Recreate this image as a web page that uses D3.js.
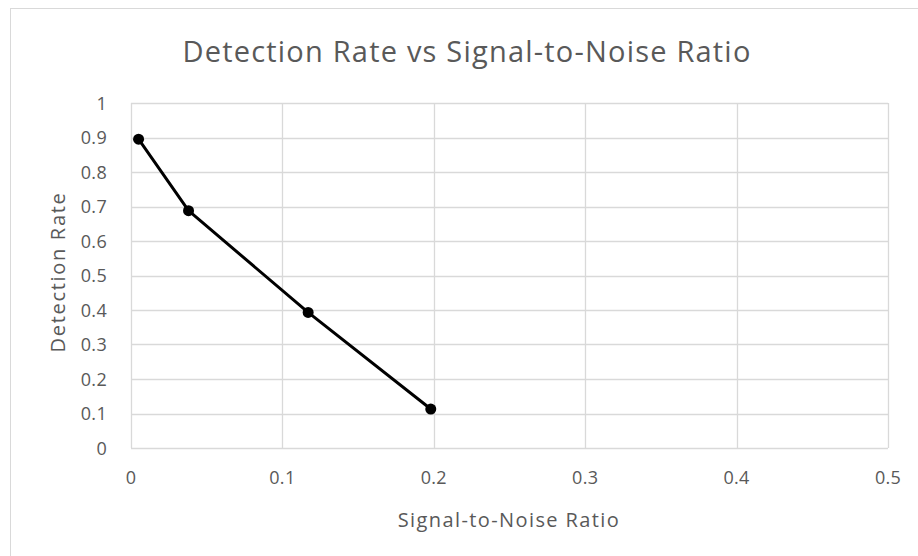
<!DOCTYPE html>
<html><head><meta charset="utf-8">
<script src="https://cdn.jsdelivr.net/npm/d3@7"></script>
<style>body{margin:0;background:#fff;}svg{display:block;font-family:"Open Sans",sans-serif;}</style>
</head><body>
<svg id="c" width="918" height="556"></svg>
<script>
const snr = [0.005, 0.038, 0.117, 0.198];
const detectionRate = [0.895, 0.688, 0.393, 0.113];
const xTicks = [0, 0.1, 0.2, 0.3, 0.4, 0.5];
const yTicks = [0, 0.1, 0.2, 0.3, 0.4, 0.5, 0.6, 0.7, 0.8, 0.9, 1];
const title = "Detection Rate vs Signal-to-Noise Ratio";
const xTitle = "Signal-to-Noise Ratio";
const yTitle = "Detection Rate";

const svg = d3.select("#c");
svg.append("rect").attr("x",10.5).attr("y",8.5).attr("width",930).attr("height",560)
  .attr("fill","#fff").attr("stroke","#d9d9d9").attr("stroke-width",1);

const m = {l:131, r:888, t:103, b:448};
const x = d3.scaleLinear().domain([0,0.5]).range([m.l,m.r]);
const y = d3.scaleLinear().domain([0,1]).range([m.b,m.t]);
const grey = "#595959";

const g = svg.append("g");
g.selectAll(".hg").data(yTicks).join("line")
  .attr("x1",m.l).attr("x2",m.r).attr("y1",d=>Math.round(y(d))+0.5).attr("y2",d=>Math.round(y(d))+0.5)
  .attr("stroke","#d9d9d9").attr("stroke-width",1.3);
g.selectAll(".vg").data(xTicks).join("line")
  .attr("y1",m.t).attr("y2",m.b).attr("x1",d=>Math.round(x(d))+0.5).attr("x2",d=>Math.round(x(d))+0.5)
  .attr("stroke","#d9d9d9").attr("stroke-width",1.3);

g.selectAll(".yl").data(yTicks).join("text")
  .attr("x",107).attr("y",d=>y(d)+6.5).attr("text-anchor","end")
  .attr("font-size",18).attr("letter-spacing",0.3).attr("fill",grey).text(d=>d3.format("~g")(d));
g.selectAll(".xl").data(xTicks).join("text")
  .attr("x",d=>x(d)).attr("y",483.5).attr("text-anchor","middle")
  .attr("font-size",18).attr("letter-spacing",0.3).attr("fill",grey).text(d=>d3.format("~g")(d));

svg.append("text").attr("x",467).attr("y",62).attr("text-anchor","middle")
  .attr("font-size",29).attr("letter-spacing",1.2).attr("fill",grey).text(title);
svg.append("text").attr("x",509).attr("y",527).attr("text-anchor","middle")
  .attr("font-size",20).attr("letter-spacing",1.4).attr("fill",grey).text(xTitle);
svg.append("text").attr("transform","translate(65,272) rotate(-90)").attr("text-anchor","middle")
  .attr("font-size",20).attr("letter-spacing",1.7).attr("fill",grey).text(yTitle);

const pts = snr.map((v,i)=>[v,detectionRate[i]]);
svg.append("path").datum(pts)
  .attr("d", d3.line().x(d=>x(d[0])).y(d=>y(d[1])))
  .attr("fill","none").attr("stroke","#000").attr("stroke-width",3).attr("stroke-linejoin","round");
svg.selectAll(".pt").data(pts).join("circle")
  .attr("cx",d=>x(d[0])).attr("cy",d=>y(d[1])).attr("r",5.5).attr("fill","#000");
</script>
</body></html>
